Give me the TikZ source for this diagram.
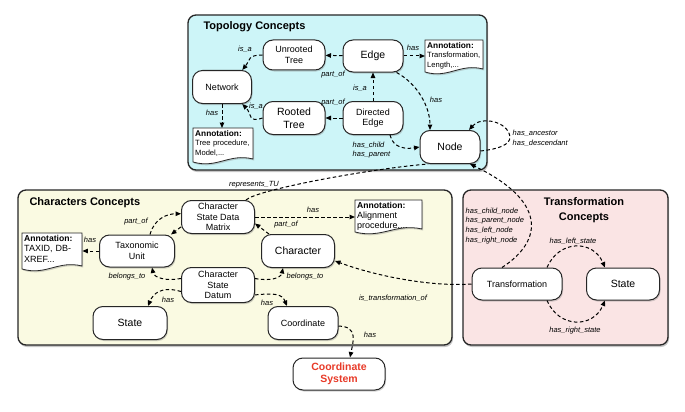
\documentclass[tikz,border=0pt]{standalone}
\usepackage{fontspec}
\setmainfont{Liberation Sans}
\usepackage{tikz}
\usetikzlibrary{arrows.meta,shadows}
\tikzset{>={Triangle[length=5.5pt,width=4.5pt]}}

\definecolor{topofill}{RGB}{205,245,248}
\definecolor{charfill}{RGB}{250,250,226}
\definecolor{transfill}{RGB}{250,228,228}
\definecolor{sysred}{RGB}{232,58,40}

\tikzset{
  area/.style={draw=black!85, line width=1.3pt, rounded corners=8pt,
    drop shadow={shadow xshift=1pt, shadow yshift=-2pt, opacity=0.45}},
  concept/.style={draw=black!85, fill=white, line width=1pt, rounded corners=10pt,
    align=center, inner sep=1pt, font=\fontsize{9}{10.5}\selectfont,
    drop shadow={shadow xshift=1pt, shadow yshift=-1.5pt, opacity=0.35}},
  wh/.style 2 args={minimum width=#1pt, minimum height=#2pt},
  big/.style={font=\fontsize{10.5}{12.5}\selectfont},
  doc/.style={draw=black!85, fill=white, line width=0.8pt,
    drop shadow={shadow xshift=1pt, shadow yshift=-1.5pt, opacity=0.35}},
  note/.style={anchor=north west, align=left, inner sep=2pt},
  rel/.style={->, line width=1pt, dash pattern=on 3.5pt off 2.5pt},
  lbl/.style={font=\fontsize{7.5}{9.8}\selectfont\itshape, inner sep=0.5pt},
  title/.style={font=\fontsize{11}{15}\selectfont\bfseries}
}

\begin{document}
\begin{tikzpicture}[x=1pt, y=-1pt]
\useasboundingbox (0,0) rectangle (685,412);

% concept areas
\draw[area, fill=topofill] (188,15) rectangle (487,170);
\draw[area, fill=charfill] (18,190) rectangle (452,345);
\draw[area, fill=transfill] (463,190) rectangle (668,345);
\node[title, anchor=west] (topotitle) at (200,27) {Topology Concepts};
\node[title, anchor=west] (chartitle) at (26,203) {Characters Concepts};
\node[title, align=center] (transtitle) at (584,210) {Transformation\\Concepts};

% annotation sheets
\draw[doc] (425,40) -- (483,40) -- (483,69) .. controls (460,63) and (448,79) .. (425,72) -- cycle;
\draw[doc] (193,128) -- (253,128) -- (253,159) .. controls (229,153) and (217,169) .. (193,162) -- cycle;
\draw[doc] (22,233) -- (82,233) -- (82,266) .. controls (58,260) and (46,276) .. (22,269) -- cycle;
\draw[doc] (355,200) -- (422,200) -- (422,229) .. controls (395,223) and (382,239) .. (355,232) -- cycle;
\node[note, text width=54pt, font=\fontsize{7.6}{9.4}\selectfont] (annedge) at (425,40)
  {{\fontsize{8.3}{9.4}\selectfont\bfseries Annotation:}\\Transformation,\\Length,...};
\node[note, text width=56pt, font=\fontsize{7.6}{9.4}\selectfont] (annnet) at (193,128)
  {{\fontsize{8.3}{9.4}\selectfont\bfseries Annotation:}\\Tree procedure,\\Model,...};
\node[note, text width=56pt, font=\fontsize{9}{10.5}\selectfont] (anntu) at (22,233)
  {{\fontsize{8.6}{10.5}\selectfont\bfseries Annotation:}\\TAXID, DB-\\XREF...};
\node[note, text width=63pt, font=\fontsize{9}{10}\selectfont] (anncsdm) at (355,200)
  {{\fontsize{8.6}{10}\selectfont\bfseries Annotation:}\\Alignment\\procedure,...};

% topology concepts
\node[concept, wh={62}{30}] (unrooted) at (294,55) {Unrooted\\Tree};
\node[concept, big, wh={60}{32}] (edge) at (373,56) {Edge};
\node[concept, wh={59}{33}] (network) at (222,87) {Network};
\node[concept, big, wh={62}{33}] (rooted) at (294,118) {Rooted\\Tree};
\node[concept, wh={60}{33}] (diredge) at (373,118) {Directed\\Edge};
\node[concept, big, wh={60}{33}] (tnode) at (450,147) {Node};

% characters concepts
\node[concept, wh={73}{33}] (csdm) at (218,217) {Character\\State Data\\Matrix};
\node[concept, wh={75}{32}] (tu) at (137,251) {Taxonomic\\Unit};
\node[concept, big, wh={73}{33}] (character) at (298,251) {Character};
\node[concept, wh={73}{35}] (csd) at (218,285) {Character\\State\\Datum};
\node[concept, big, wh={74}{33}] (cstate) at (130,323) {State};
\node[concept, wh={70}{33}] (coord) at (303,323) {Coordinate};
\node[concept, big, wh={92}{32}, text=sysred, font=\fontsize{10.5}{12.5}\selectfont\bfseries] (coordsys) at (339,374) {Coordinate\\System};

% transformation concepts
\node[concept, wh={90}{32}] (transf) at (517,284) {Transformation};
\node[concept, big, wh={73}{32}] (tstate) at (623,284) {State};

% topology relations
\draw[rel] (edge) -- (unrooted);
\draw[rel] (diredge) -- (rooted);
\draw[rel] (diredge) -- (edge);
\draw[rel] (edge) -- (edge -| annedge.west);
\draw[rel] (network.south) -- (network.south |- annnet.north);
\draw[rel] (unrooted.west) .. controls +(-15,0) and +(8,-10) .. (network.40);
\draw[rel] (rooted.west) .. controls +(-15,5) and +(10,10) .. (network.-40);
\draw[rel] (edge.-35) .. controls +(22,12) and +(0,-22) .. ([xshift=-20pt]tnode.north);
\draw[rel] ([xshift=17pt]diredge.south) .. controls +(3,14) and +(-12,2) .. (tnode.west);
\coordinate (loopout) at (510,137);
\draw[rel] ([yshift=-4pt]tnode.east) .. controls +(18,-2) and +(0,8) .. (loopout)
  .. controls +(-2,-16) and +(12,-14) .. ([xshift=19pt]tnode.north);
\node[lbl, anchor=south] at (245,53) {is\_a};
\node[lbl, anchor=south] at (256,110) {is\_a};
\node[lbl] at (333,75) {part\_of};
\node[lbl] at (333,103) {part\_of};
\node[lbl] at (360,88) {is\_a};
\node[lbl] at (413,48) {has};
\node[lbl] at (212,113) {has};
\node[lbl] at (436,100) {has};
\node[lbl, anchor=west, align=left] at (352,150) {has\_child\\has\_parent};
\node[lbl, anchor=west, align=left] at (512,138) {has\_ancestor\\has\_descendant};

% characters relations
\draw[rel] ([xshift=13pt]tu.north) .. controls +(4,-15) and +(-15,0) .. (csdm.175);
\draw[rel] (csdm.195) -- ([xshift=-4pt]tu.north east);
\draw[rel] (csdm) -- (csdm -| anncsdm.west);
\draw[rel] ([xshift=8pt]character.north west) -- (csdm.-10);
\draw[rel] (tu) -- (tu -| anntu.east);
\draw[rel] (csd.170) .. controls +(-15,3) and +(2,10) .. ([xshift=15pt]tu.south);
\draw[rel] (csd.10) .. controls +(15,3) and +(-2,10) .. ([xshift=-15pt]character.south);
\draw[rel] (csd.190) .. controls +(-20,-6) and +(5,-12) .. ([xshift=18pt]cstate.north);
\draw[rel] (csd.-15) .. controls +(20,-2) and +(-5,-12) .. ([xshift=-16pt]coord.north);
\draw[rel] (coord.-5) .. controls +(20,0) and +(3,-15) .. ([xshift=11pt]coordsys.north);
\node[lbl] at (136,222) {part\_of};
\node[lbl] at (313,210) {has};
\node[lbl] at (286,225) {part\_of};
\node[lbl] at (90,240) {has};
\node[lbl] at (127,277) {belongs\_to};
\node[lbl] at (305,277) {belongs\_to};
\node[lbl] at (168,300) {has};
\node[lbl] at (267,303) {has};
\node[lbl] at (370,335) {has};

% cross relations
\draw[line width=1pt, dash pattern=on 3.5pt off 2.5pt] ([xshift=28pt]csdm.north)
  .. controls +(10,-10) and +(-60,5) .. ([xshift=-22pt]tnode.south);
\draw[rel] ([xshift=-15pt]transf.north) .. controls +(43,-28) and +(75,36) .. ([xshift=20pt]tnode.south);
\draw[rel] (transf.west) .. controls +(-40,3) and +(40,15) .. (character.-15);
\draw[rel] ([xshift=30pt]transf.north) .. controls +(12,-28) and +(-12,-28) .. ([xshift=-18pt]tstate.north);
\draw[rel] ([xshift=30pt]transf.south) .. controls +(12,28) and +(-12,28) .. ([xshift=-18pt]tstate.south);
\node[lbl] at (254,185) {represents\_TU};
\node[lbl, anchor=north west, align=left] at (465,207) {has\_child\_node\\has\_parent\_node\\has\_left\_node\\has\_right\_node};
\node[lbl] at (393,298) {is\_transformation\_of};
\node[lbl] at (573,241) {has\_left\_state};
\node[lbl] at (575,331) {has\_right\_state};

\end{tikzpicture}
\end{document}
